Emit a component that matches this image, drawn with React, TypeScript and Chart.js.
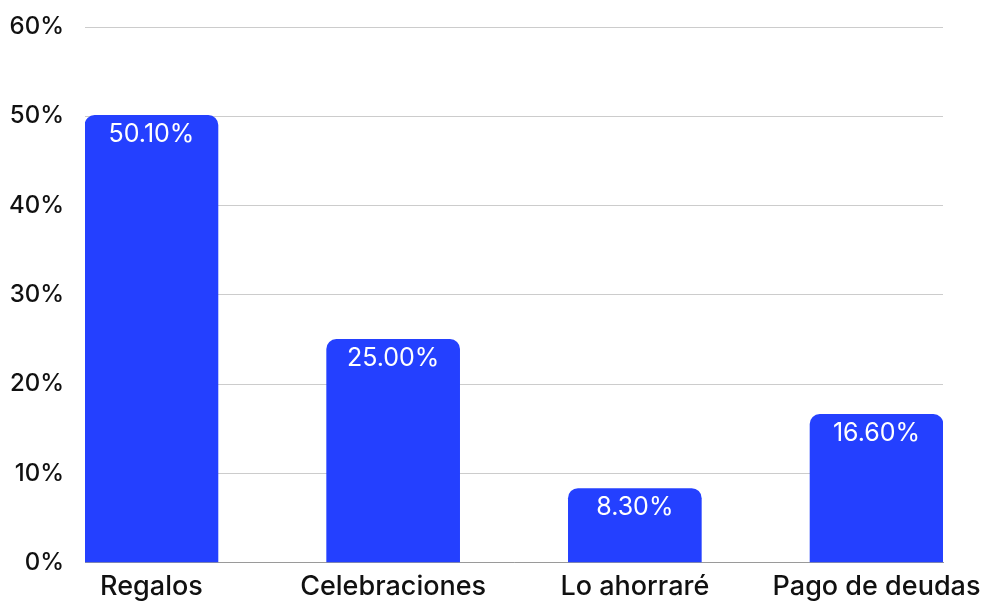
import React, { useEffect, useRef } from "react";
import { Chart, registerables } from "chart.js";

Chart.register(...registerables);

const categories = ["Regalos", "Celebraciones", "Lo ahorraré", "Pago de deudas"];
const values = [50.1, 25.0, 8.3, 16.6];
const yTicks = [0, 10, 20, 30, 40, 50, 60];

const FONT = "Inter, 'Open Sans', sans-serif";
const BAR_COLOR = "#2440FF";

const valueLabelPlugin = {
  id: "valueLabels",
  afterDatasetsDraw(chart: any) {
    const { ctx } = chart;
    const meta = chart.getDatasetMeta(0);
    ctx.save();
    ctx.fillStyle = "#ffffff";
    ctx.font = `400 25px ${FONT}`;
    ctx.textAlign = "center";
    ctx.textBaseline = "middle";
    meta.data.forEach((bar: any, i: number) => {
      ctx.fillText(values[i].toFixed(2) + "%", bar.x, bar.y + 19);
    });
    ctx.restore();
  },
};

export default function App() {
  const ref = useRef<HTMLCanvasElement>(null);
  useEffect(() => {
    document.body.style.margin = "0";
    const chart = new Chart(ref.current!, {
      type: "bar",
      data: {
        datasets: [
          {
            data: values.map((v, i) => ({ x: i, y: v })),
            backgroundColor: BAR_COLOR,
            barThickness: 133,
            borderRadius: { topLeft: 10, topRight: 10, bottomLeft: 0, bottomRight: 0 },
            borderSkipped: false,
          },
        ],
      },
      options: {
        animation: false,
        responsive: false,
        maintainAspectRatio: false,
        layout: { padding: { left: 0, right: 46, top: 27, bottom: 0 } },
        plugins: { legend: { display: false }, tooltip: { enabled: false } },
        scales: {
          x: {
            type: "linear",
            min: -0.275,
            max: 3.275,
            offset: false,
            afterBuildTicks: (axis: any) => {
              axis.ticks = categories.map((_, i) => ({ value: i }));
            },
            afterFit: (axis: any) => {
              axis.paddingLeft = 0;
              axis.paddingRight = 0;
            },
            grid: { display: false, drawTicks: false },
            border: { display: true, color: "#9a9a9a", width: 1 },
            ticks: {
              autoSkip: false,
              maxRotation: 0,
              padding: 8,
              color: "#111111",
              font: { family: FONT, size: 27, weight: "500" },
              callback: (v: any) => categories[v as number] ?? "",
            },
          },
          y: {
            min: 0,
            max: 60,
            afterBuildTicks: (axis: any) => {
              axis.ticks = yTicks.map((v) => ({ value: v }));
            },
            afterFit: (axis: any) => {
              axis.width = 85;
              axis.paddingTop = 0;
              axis.paddingBottom = 0;
            },
            grid: { color: "#cccccc", lineWidth: 1, drawTicks: false },
            border: { display: false },
            ticks: {
              padding: 21,
              color: "#111111",
              font: { family: FONT, size: 24, weight: "500" },
              callback: (v: any) => v + "%",
            },
          },
        },
      },
      plugins: [valueLabelPlugin],
    });
    return () => chart.destroy();
  }, []);
  return (
    <div style={{ position: "absolute", left: 0, top: 0, width: 989, height: 611 }}>
      <canvas ref={ref} width={989} height={611} style={{ width: 989, height: 611 }} />
    </div>
  );
}
